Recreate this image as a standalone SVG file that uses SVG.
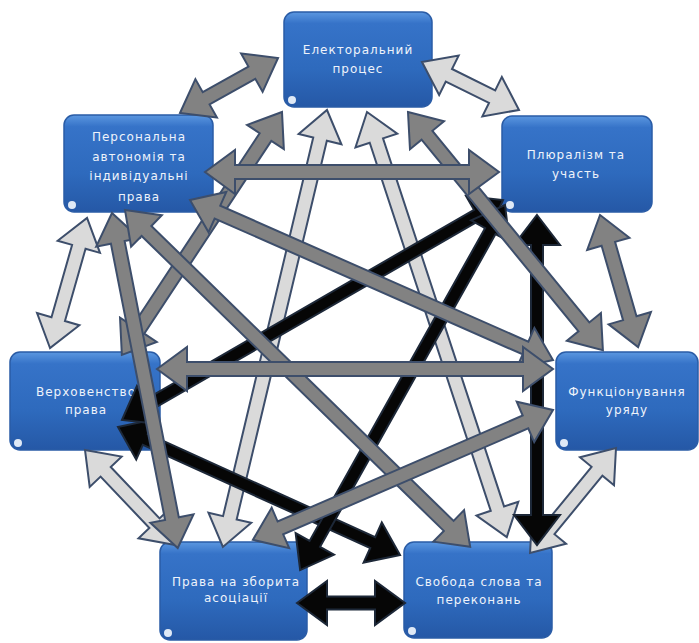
<svg xmlns="http://www.w3.org/2000/svg" width="699" height="643" viewBox="0 0 699 643">
<defs>
<linearGradient id="nodeGrad" x1="0" y1="0" x2="0" y2="1">
<stop offset="0" stop-color="#5b97e0"/>
<stop offset="0.12" stop-color="#3673c8"/>
<stop offset="0.6" stop-color="#2e6abd"/>
<stop offset="1" stop-color="#2558a6"/>
</linearGradient>
<style>
.box{fill:url(#nodeGrad);stroke:#2a5ca6;stroke-width:1.5}
.dot{fill:#dfe9f6}
.lbl{font-family:"DejaVu Sans",sans-serif;font-size:12px;letter-spacing:1px;fill:#eef3fb;text-anchor:middle}
.dk{fill:#828282;stroke:#3d4e6b;stroke-width:2;stroke-linejoin:miter}
.lt{fill:#dadada;stroke:#3d4e6b;stroke-width:2;stroke-linejoin:miter}
.bk{fill:#060606;stroke:#1d2838;stroke-width:2;stroke-linejoin:miter}
</style>
</defs>
<rect width="699" height="643" fill="#ffffff"/>

<g id="node-electoral">
<rect class="box" x="284" y="12" width="148" height="95" rx="10"/>
<circle class="dot" cx="292" cy="100" r="4"/>
<text class="lbl" x="358" y="54">Електоральний</text>
<text class="lbl" x="358" y="73">процес</text>
</g>
<g id="node-personal">
<rect class="box" x="64" y="115" width="149" height="97" rx="10"/>
<circle class="dot" cx="72" cy="205" r="4"/>
<text class="lbl" x="139" y="141">Персональна</text>
<text class="lbl" x="139" y="161">автономія та</text>
<text class="lbl" x="139" y="180">індивідуальні</text>
<text class="lbl" x="139" y="201">права</text>
</g>
<g id="node-pluralism">
<rect class="box" x="502" y="116" width="150" height="96" rx="10"/>
<circle class="dot" cx="510" cy="205" r="4"/>
<text class="lbl" x="576" y="159">Плюралізм та</text>
<text class="lbl" x="576" y="178">участь</text>
</g>
<g id="node-rule-of-law">
<rect class="box" x="10" y="352" width="150" height="98" rx="10"/>
<circle class="dot" cx="18" cy="443" r="4"/>
<text class="lbl" x="86" y="396">Верховенство</text>
<text class="lbl" x="86" y="414">права</text>
</g>
<g id="node-government">
<rect class="box" x="556" y="352" width="142" height="98" rx="10"/>
<circle class="dot" cx="564" cy="443" r="4"/>
<text class="lbl" x="627" y="396">Функціонування</text>
<text class="lbl" x="627" y="414">уряду</text>
</g>
<g id="node-assembly">
<rect class="box" x="160" y="542" width="147" height="98" rx="10"/>
<circle class="dot" cx="168" cy="633" r="4"/>
<text class="lbl" x="236" y="586">Права на зборита</text>
<text class="lbl" x="236" y="602">асоціації</text>
</g>
<g id="node-speech">
<rect class="box" x="404" y="542" width="148" height="96" rx="10"/>
<circle class="dot" cx="412" cy="631" r="4"/>
<text class="lbl" x="479" y="586">Свобода слова та</text>
<text class="lbl" x="479" y="604">переконань</text>
</g>

<g id="connectors">
<!-- light gray -->
<path class="lt" transform="translate(422 62) rotate(26.3)" d="M0,0 L30,-22 L30,-7 L78.2,-7 L78.2,-22 L108.2,0 L78.2,22 L78.2,7 L30,7 L30,22 Z"/>
<path class="lt" transform="translate(50 348) rotate(-74.1)" d="M0,0 L30,-22 L30,-7 L105.2,-7 L105.2,-22 L135.2,0 L105.2,22 L105.2,7 L30,7 L30,22 Z"/>
<path class="lt" transform="translate(85 450) rotate(46.5)" d="M0,0 L30,-22 L30,-7 L100.9,-7 L100.9,-22 L130.9,0 L100.9,22 L100.9,7 L30,7 L30,22 Z"/>
<path class="lt" transform="translate(616 448) rotate(129.3)" d="M0,0 L30,-22 L30,-7 L105.7,-7 L105.7,-22 L135.7,0 L105.7,22 L105.7,7 L30,7 L30,22 Z"/>
<path class="lt" transform="translate(327 110) rotate(103.4)" d="M0,0 L30,-22 L30,-7 L419.2,-7 L419.2,-22 L449.2,0 L419.2,22 L419.2,7 L30,7 L30,22 Z"/>
<path class="lt" transform="translate(367 112) rotate(71.8)" d="M0,0 L30,-22 L30,-7 L417.5,-7 L417.5,-22 L447.5,0 L417.5,22 L417.5,7 L30,7 L30,22 Z"/>
<!-- black -->
<path class="bk" transform="translate(297 603)" d="M0,0 L30,-22 L30,-6.5 L78,-6.5 L78,-22 L108,0 L78,22 L78,6.5 L30,6.5 L30,22 Z"/>
<path class="bk" transform="translate(118 427) rotate(24.4)" d="M0,0 L30,-22 L30,-6 L279.7,-6 L279.7,-22 L309.7,0 L279.7,22 L279.7,6 L30,6 L30,22 Z"/>
<path class="bk" transform="translate(503 200) rotate(150)" d="M0,0 L30,-22 L30,-6 L410,-6 L410,-22 L440,0 L410,22 L410,6 L30,6 L30,22 Z"/>
<path class="bk" transform="translate(505 205) rotate(119.3)" d="M0,0 L30,-22 L30,-6 L388.6,-6 L388.6,-22 L418.6,0 L388.6,22 L388.6,6 L30,6 L30,22 Z"/>
<path class="bk" transform="translate(537 215) rotate(90)" d="M0,0 L30,-23 L30,-6 L300,-6 L300,-23 L330,0 L300,23 L300,6 L30,6 L30,23 Z"/>
<!-- dark gray -->
<path class="dk" transform="translate(180 113) rotate(-29.3)" d="M0,0 L30,-22 L30,-7 L82.4,-7 L82.4,-22 L112.4,0 L82.4,22 L82.4,7 L30,7 L30,22 Z"/>
<path class="dk" transform="translate(600 215) rotate(73.9)" d="M0,0 L30,-22 L30,-7 L107.4,-7 L107.4,-22 L137.4,0 L107.4,22 L107.4,7 L30,7 L30,22 Z"/>
<path class="dk" transform="translate(282 112) rotate(123.4)" d="M0,0 L30,-22 L30,-7 L260.9,-7 L260.9,-22 L290.9,0 L260.9,22 L260.9,7 L30,7 L30,22 Z"/>
<path class="dk" transform="translate(408 112) rotate(50.7)" d="M0,0 L30,-22 L30,-7 L277.7,-7 L277.7,-22 L307.7,0 L277.7,22 L277.7,7 L30,7 L30,22 Z"/>
<path class="dk" transform="translate(112 213) rotate(78.9)" d="M0,0 L30,-22 L30,-7 L311.4,-7 L311.4,-22 L341.4,0 L311.4,22 L311.4,7 L30,7 L30,22 Z"/>
<path class="dk" transform="translate(125 210) rotate(44.3)" d="M0,0 L30,-22 L30,-7 L452.3,-7 L452.3,-22 L482.3,0 L452.3,22 L452.3,7 L30,7 L30,22 Z"/>
<path class="dk" transform="translate(190 200) rotate(23.8)" d="M0,0 L30,-22 L30,-7 L366.7,-7 L366.7,-22 L396.7,0 L366.7,22 L366.7,7 L30,7 L30,22 Z"/>
<path class="dk" transform="translate(553 410) rotate(156.6)" d="M0,0 L30,-22 L30,-7 L297,-7 L297,-22 L327,0 L297,22 L297,7 L30,7 L30,22 Z"/>
<path class="dk" transform="translate(205 172)" d="M0,0 L30,-22 L30,-7 L264,-7 L264,-22 L294,0 L264,22 L264,7 L30,7 L30,22 Z"/>
<path class="dk" transform="translate(157 369)" d="M0,0 L30,-22 L30,-7 L366,-7 L366,-22 L396,0 L366,22 L366,7 L30,7 L30,22 Z"/>
</g>
</svg>
